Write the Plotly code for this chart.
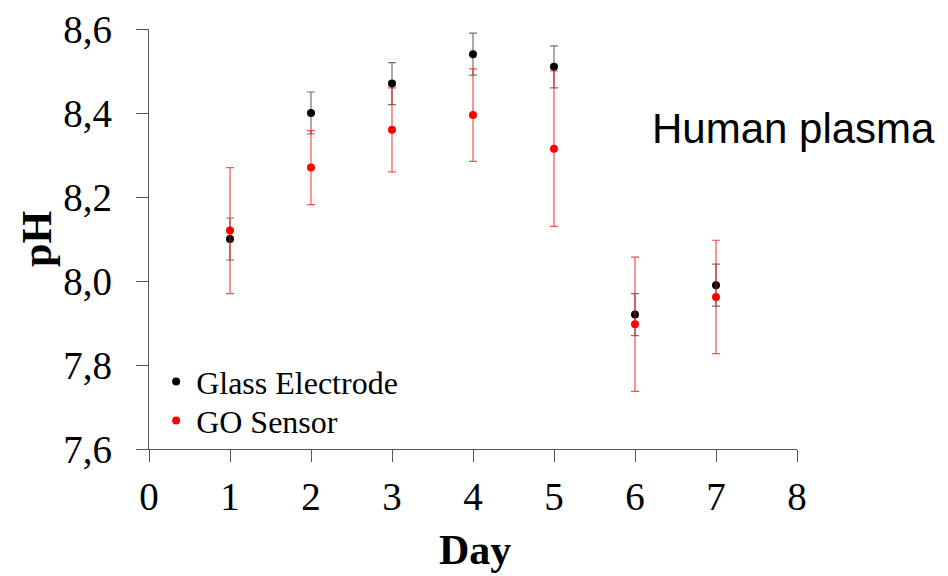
import plotly.graph_objects as go

days = [1, 2, 3, 4, 5, 6, 7]
glass_ph = [8.10, 8.40, 8.47, 8.54, 8.51, 7.92, 7.99]
glass_err = [0.05, 0.05, 0.05, 0.05, 0.05, 0.05, 0.05]
go_ph = [8.12, 8.27, 8.36, 8.395, 8.315, 7.897, 7.962]
go_err = [0.15, 0.088, 0.10, 0.11, 0.185, 0.16, 0.135]
x_ticks = [0, 1, 2, 3, 4, 5, 6, 7, 8]
y_ticks = [7.6, 7.8, 8.0, 8.2, 8.4, 8.6]
y_labels = ["7,6", "7,8", "8,0", "8,2", "8,4", "8,6"]

serif = "Liberation Serif, Times New Roman, serif"
sans = "Liberation Sans, Arial, sans-serif"

fig = go.Figure()
fig.add_trace(go.Scatter(
    x=days, y=glass_ph, mode="markers", name="Glass Electrode", legend="legend",
    marker=dict(color="black", size=8),
    error_y=dict(type="data", array=glass_err, color="rgba(0,0,0,0.55)", thickness=1.2, width=4),
))
fig.add_trace(go.Scatter(
    x=days, y=go_ph, mode="markers", name="GO Sensor", legend="legend2",
    marker=dict(color="#ff0000", size=8),
    error_y=dict(type="data", array=go_err, color="rgba(255,0,0,0.7)", thickness=1.2, width=4),
))

axis_common = dict(
    showline=True, linecolor="#555", linewidth=1.2, ticks="outside", ticklen=12,
    tickcolor="#555", tickwidth=1.2, showgrid=False, zeroline=False, automargin=False,
    ticklabeloverflow="allow",
    tickfont=dict(family=serif, size=39, color="black"),
)
fig.update_xaxes(range=[0, 8], tickvals=x_ticks, ticklabelstandoff=1, **axis_common)
fig.update_yaxes(range=[7.6, 8.6], tickvals=y_ticks, ticktext=y_labels, ticklabelstandoff=16, **axis_common)

fig.add_annotation(text="<b>Day</b>", xref="paper", yref="paper", x=0.503, y=-0.2405,
                   xanchor="center", yanchor="middle", showarrow=False,
                   font=dict(family=serif, size=42, color="black"))
fig.add_annotation(text="<b>pH</b>", xref="paper", yref="paper", x=-0.173, y=0.5,
                   xanchor="center", yanchor="middle", showarrow=False, textangle=-90,
                   font=dict(family=serif, size=42, color="black"))
fig.add_annotation(text="Human plasma", xref="paper", yref="paper", x=0.773, y=0.764,
                   xanchor="left", yanchor="middle", showarrow=False,
                   font=dict(family=sans, size=42, color="black"))

legend_style = dict(xanchor="left", yanchor="top",
                    font=dict(family=serif, size=32, color="black"),
                    bgcolor="rgba(0,0,0,0)", itemsizing="trace")
fig.update_layout(
    width=948, height=576,
    margin=dict(l=141, r=159, t=21, b=135, autoexpand=False),
    plot_bgcolor="white", paper_bgcolor="white",
    showlegend=True,
    legend=dict(x=0.011, y=0.226, **legend_style),
    legend2=dict(x=0.011, y=0.133, **legend_style),
)

fig.write_html("out.html")
